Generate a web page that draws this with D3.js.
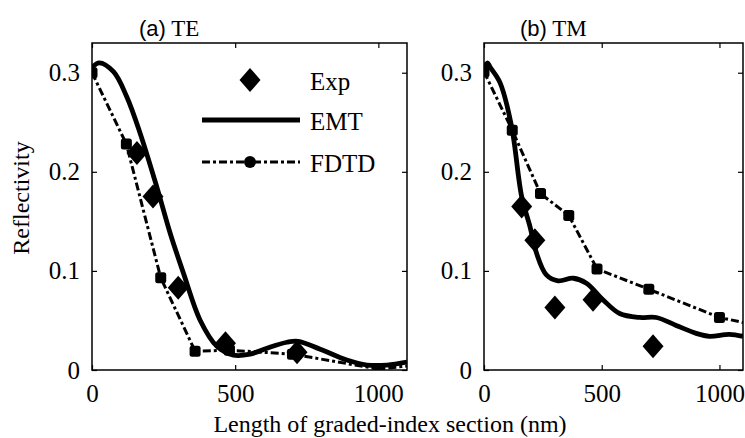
<!DOCTYPE html>
<html>
<head>
<meta charset="utf-8">
<script src="https://cdn.jsdelivr.net/npm/d3@7/dist/d3.min.js"></script>
<style>
  html, body { margin: 0; padding: 0; background: #fff; }
  svg { display: block; }
  text { fill: #000; }
</style>
</head>
<body>
<svg id="chart" width="745" height="438"></svg>
<script>
// ---------- data ----------
const xTicks = [0, 500, 1000];
const xTickLabels = ["0", "500", "1000"];
const yTicks = [0, 0.1, 0.2, 0.3];
const yTickLabels = ["0", "0.1", "0.2", "0.3"];
const legendLabels = ["Exp", "EMT", "FDTD"];

// (a) TE
const teExpX = [157, 213, 301, 466, 716];
const teExpR = [0.219, 0.175, 0.083, 0.027, 0.018];
const teFdtdX = [0, 120, 240, 360, 480, 700, 1000, 1100];
const teFdtdR = [0.300, 0.228, 0.093, 0.019, 0.020, 0.016, 0.001, 0.004];
const teEmtX = [0, 25, 75, 121, 168, 226, 273, 319, 378, 436, 494, 552, 611, 681, 720, 797, 890, 960, 1030, 1100];
const teEmtR = [0.305, 0.310, 0.301, 0.276, 0.239, 0.185, 0.138, 0.098, 0.050, 0.024, 0.015, 0.016, 0.022, 0.028, 0.029, 0.021, 0.010, 0.005, 0.005, 0.008];

// (b) TM
const tmExpX = [160, 216, 301, 463, 718];
const tmExpR = [0.165, 0.131, 0.063, 0.071, 0.024];
const tmFdtdX = [0, 120, 240, 360, 480, 700, 1000, 1100];
const tmFdtdR = [0.301, 0.242, 0.178, 0.156, 0.102, 0.0815, 0.053, 0.048];
const tmEmtX = [0, 15, 25, 68, 117, 160, 195, 223, 265, 315, 379, 435, 506, 576, 661, 732, 816, 901, 958, 1042, 1100];
const tmEmtR = [0.305, 0.310, 0.306, 0.290, 0.246, 0.175, 0.145, 0.118, 0.096, 0.090, 0.0926, 0.0876, 0.0707, 0.057, 0.053, 0.053, 0.045, 0.037, 0.034, 0.036, 0.034];

const zip = (xs, ys) => xs.map((x, i) => ({x, y: ys[i]}));

// ---------- drawing ----------
const svg = d3.select("#chart");
const SERIF = "'Liberation Serif', 'Times New Roman', serif";
const SANS = "'Liberation Sans', Arial, sans-serif";

const plotTop = 43, plotBottom = 370;

function panel(id, left, right, titleA, titleB, titleX, expD, emtD, fdtdD, withLegend) {
  const x = d3.scaleLinear().domain([0, 1100]).range([left, right]);
  const y = d3.scaleLinear().domain([0, 0.33]).range([plotBottom, plotTop]);
  const g = svg.append("g");

  g.append("clipPath").attr("id", id).append("rect")
    .attr("x", left).attr("y", plotTop).attr("width", right - left).attr("height", plotBottom - plotTop);

  const plot = g.append("g").attr("clip-path", `url(#${id})`);

  // FDTD dash-dot
  const line = d3.line().x(d => x(d.x)).y(d => y(d.y));
  plot.append("path").datum(fdtdD)
    .attr("d", line.curve(d3.curveLinear))
    .attr("fill", "none").attr("stroke", "#000").attr("stroke-width", 3)
    .attr("stroke-dasharray", "8,3,3,3");
  plot.selectAll(".fsq").data(fdtdD.filter(d => d.x < 1100)).enter().append("rect")
    .attr("x", d => x(d.x) - 5.5).attr("y", d => y(d.y) - 5.5)
    .attr("width", 11).attr("height", 11).attr("rx", 2.5).attr("fill", "#000");

  // EMT solid
  plot.append("path").datum(emtD)
    .attr("d", d3.line().x(d => x(d.x)).y(d => y(d.y)).curve(d3.curveCatmullRom.alpha(0.5)))
    .attr("fill", "none").attr("stroke", "#000").attr("stroke-width", 4.8)
    .attr("stroke-linejoin", "round");

  // Exp diamonds
  const diamond = (cx, cy) => `M${cx},${cy - 12}L${cx + 10.5},${cy}L${cx},${cy + 12}L${cx - 10.5},${cy}Z`;
  plot.selectAll(".dia").data(expD).enter().append("path")
    .attr("d", d => diamond(x(d.x), y(d.y))).attr("fill", "#000");

  // box
  g.append("rect").attr("x", left).attr("y", plotTop).attr("width", right - left).attr("height", plotBottom - plotTop)
    .attr("fill", "none").attr("stroke", "#000").attr("stroke-width", 1.5);

  // axes (ticks inside, MATLAB style)
  const axB = d3.axisBottom(x).tickValues(xTicks).tickSize(-5).tickFormat((d, i) => xTickLabels[i]).tickPadding(14);
  const gB = g.append("g").attr("transform", `translate(0,${plotBottom})`).call(axB);
  const axT = d3.axisTop(x).tickValues(xTicks).tickSize(-5).tickFormat("");
  const gT = g.append("g").attr("transform", `translate(0,${plotTop})`).call(axT);
  const axL = d3.axisLeft(y).tickValues(yTicks).tickSize(-5).tickFormat((d, i) => yTickLabels[i]).tickPadding(12);
  const gL = g.append("g").attr("transform", `translate(${left},0)`).call(axL);
  const axR = d3.axisRight(y).tickValues(yTicks).tickSize(-5).tickFormat("");
  const gR = g.append("g").attr("transform", `translate(${right},0)`).call(axR);
  [gB, gT, gL, gR].forEach(a => {
    a.select(".domain").remove();
    a.selectAll(".tick line").attr("stroke", "#000").attr("stroke-width", 1.2);
  });
  gB.selectAll(".tick text").attr("font-family", SERIF).attr("font-size", 25).attr("dy", "0.71em");
  gL.selectAll(".tick text").attr("font-family", SERIF).attr("font-size", 25);

  // title
  const t = g.append("text").attr("x", titleX).attr("y", 36);
  t.append("tspan").attr("font-family", SANS).attr("font-size", 22).text(titleA);
  t.append("tspan").attr("font-family", SERIF).attr("font-size", 23).text(" " + titleB);

  if (withLegend) {
    const lg = g.append("g");
    lg.append("path").attr("d", diamond(250, 80)).attr("fill", "#000");
    lg.append("line").attr("x1", 202).attr("x2", 300).attr("y1", 120).attr("y2", 120)
      .attr("stroke", "#000").attr("stroke-width", 4.8);
    lg.append("line").attr("x1", 202).attr("x2", 300).attr("y1", 162).attr("y2", 162)
      .attr("stroke", "#000").attr("stroke-width", 3).attr("stroke-dasharray", "8,3,3,3");
    lg.append("circle").attr("cx", 250).attr("cy", 162).attr("r", 6).attr("fill", "#000");
    const ly = [90, 130, 172];
    legendLabels.forEach((s, i) => {
      lg.append("text").attr("x", 310).attr("y", ly[i]).attr("font-family", SERIF).attr("font-size", 25).text(s);
    });
  }
}

panel("clipA", 92, 407, "(a)", "TE", 139, zip(teExpX, teExpR), zip(teEmtX, teEmtR), zip(teFdtdX, teFdtdR), true);
panel("clipB", 484, 743, "(b)", "TM", 520, zip(tmExpX, tmExpR), zip(tmEmtX, tmEmtR), zip(tmFdtdX, tmFdtdR), false);

// axis labels
svg.append("text").attr("x", 390).attr("y", 432).attr("text-anchor", "middle")
  .attr("font-family", SERIF).attr("font-size", 24).text("Length of graded-index section (nm)");
svg.append("text").attr("transform", "translate(29,198) rotate(-90)").attr("text-anchor", "middle")
  .attr("font-family", SERIF).attr("font-size", 24).text("Reflectivity");
</script>
</body>
</html>
